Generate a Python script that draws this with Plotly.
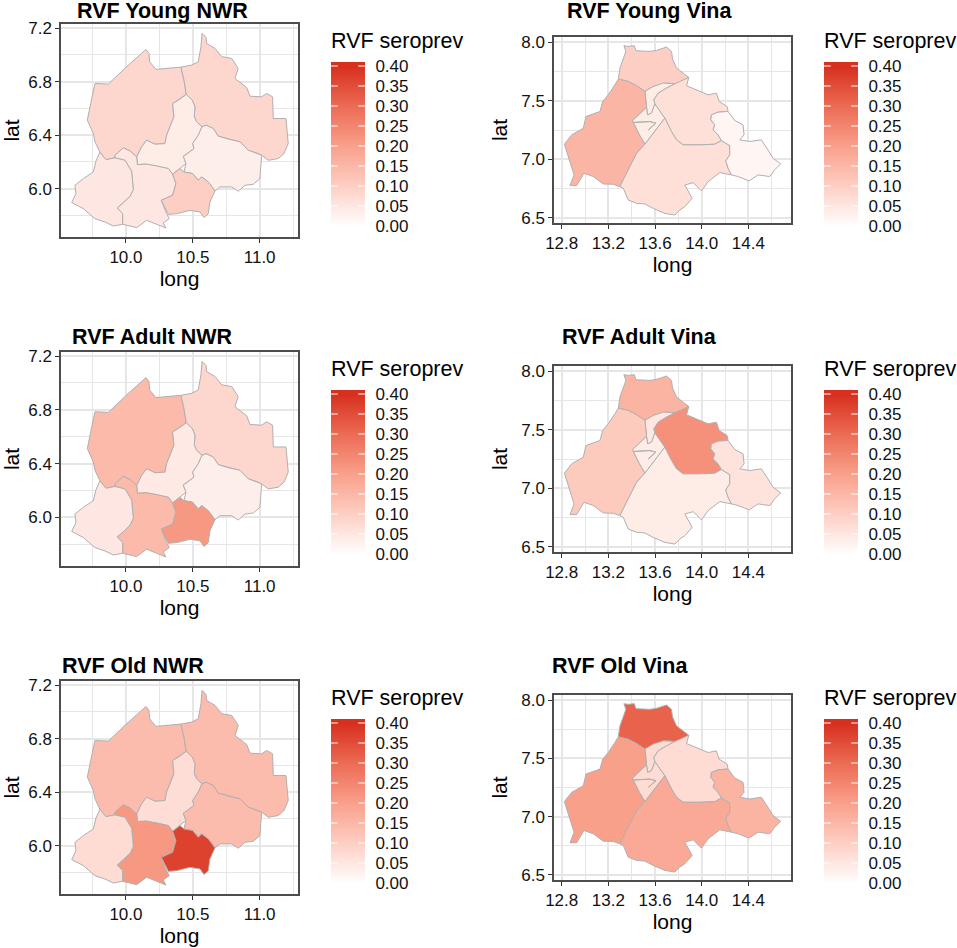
import plotly.graph_objects as go
from plotly.colors import sample_colorscale

# ---------- data: region outlines (long, lat) ----------
NWR_NW = [(10.150,7.040),(10.172,7.010),(10.177,6.948),(10.224,6.891),(10.411,6.908),(10.434,6.811),(10.451,6.704),
          (10.392,6.661),(10.349,6.636),(10.359,6.537),(10.329,6.462),(10.304,6.400),(10.292,6.337),(10.217,6.332),
          (10.155,6.362),(10.117,6.312),(10.080,6.237),(10.030,6.282),(9.980,6.305),(9.918,6.250),(9.918,6.230),
          (9.850,6.217),(9.805,6.272),(9.768,6.350),(9.756,6.412),(9.711,6.512),(9.736,6.636),(9.768,6.786),
          (9.868,6.781),(10.005,6.911)]
NWR_NE = [(10.411,6.908),(10.491,6.923),(10.541,6.948),(10.561,7.060),(10.569,7.160),(10.599,7.130),(10.603,7.085),
          (10.666,7.048),(10.716,6.986),(10.791,6.973),(10.840,6.898),(10.815,6.823),(10.903,6.756),(10.928,6.691),
          (11.015,6.686),(11.052,6.711),(11.097,6.686),(11.102,6.524),(11.197,6.524),(11.207,6.412),(11.214,6.337),
          (11.182,6.262),(11.140,6.225),(11.065,6.212),(11.015,6.250),(10.978,6.267),(10.915,6.287),(10.853,6.350),
          (10.778,6.367),(10.691,6.392),(10.653,6.449),(10.599,6.474),(10.569,6.462),(10.529,6.499),(10.511,6.537),
          (10.516,6.611),(10.496,6.661),(10.451,6.704),(10.434,6.811)]
NWR_C = [(10.451,6.704),(10.496,6.661),(10.516,6.611),(10.511,6.537),(10.529,6.499),(10.569,6.462),(10.541,6.400),
         (10.499,6.337),(10.509,6.300),(10.454,6.257),(10.429,6.242),(10.449,6.188),(10.404,6.150),(10.349,6.108),
         (10.317,6.150),(10.229,6.170),(10.155,6.183),(10.085,6.180),(10.080,6.237),(10.117,6.312),(10.155,6.362),
         (10.217,6.332),(10.292,6.337),(10.304,6.400),(10.329,6.462),(10.359,6.537),(10.349,6.636),(10.392,6.661)]
NWR_E = [(10.569,6.462),(10.599,6.474),(10.653,6.449),(10.691,6.392),(10.778,6.367),(10.853,6.350),(10.915,6.287),
         (10.978,6.267),(11.015,6.250),(11.002,6.075),(10.953,6.033),(10.890,6.025),(10.840,5.981),(10.791,6.013),
         (10.703,6.013),(10.666,5.983),(10.616,6.050),(10.566,6.088),(10.541,6.063),(10.499,6.113),(10.434,6.125),
         (10.449,6.188),(10.429,6.242),(10.454,6.257),(10.509,6.300),(10.499,6.337),(10.541,6.400)]
NWR_SC = [(9.918,6.250),(9.980,6.305),(10.030,6.282),(10.080,6.237),(10.085,6.180),(10.155,6.183),(10.229,6.170),
          (10.317,6.150),(10.349,6.108),(10.374,6.038),(10.349,5.951),(10.264,5.913),(10.304,5.813),(10.324,5.776),
          (10.279,5.744),(10.299,5.706),(10.229,5.734),(10.155,5.764),(10.080,5.709),(9.993,5.726),(9.975,5.734),
          (9.975,5.813),(9.935,5.856),(9.980,5.893),(10.030,5.943),(10.055,5.993),(10.042,6.130),(9.993,6.212),
          (9.918,6.230)]
NWR_SW = [(9.805,6.272),(9.850,6.217),(9.918,6.230),(9.993,6.212),(10.042,6.130),(10.055,5.993),(10.030,5.943),
          (9.980,5.893),(9.935,5.856),(9.975,5.813),(9.975,5.734),(9.905,5.721),(9.843,5.751),(9.768,5.776),
          (9.681,5.851),(9.594,5.896),(9.626,5.963),(9.618,6.025),(9.681,6.075),(9.756,6.125),(9.776,6.207)]
NWR_S = [(10.349,6.108),(10.404,6.150),(10.434,6.125),(10.499,6.113),(10.541,6.063),(10.566,6.088),(10.616,6.050),
         (10.666,5.983),(10.628,5.901),(10.616,5.813),(10.584,5.784),(10.554,5.826),(10.479,5.838),(10.379,5.813),
         (10.317,5.808),(10.264,5.913),(10.349,5.951),(10.374,6.038)]

VINA_N = [(13.333,7.969),(13.370,7.963),(13.422,7.969),(13.436,7.926),(13.556,7.920),(13.613,7.929),(13.698,7.957),
          (13.741,7.920),(13.750,7.855),(13.784,7.778),(13.847,7.730),(13.889,7.698),(13.827,7.664),(13.770,7.644),
          (13.698,7.650),(13.584,7.621),(13.513,7.579),(13.442,7.627),(13.370,7.664),(13.285,7.684),(13.299,7.778),
          (13.333,7.863),(13.350,7.920)]
VINA_P1 = [(13.513,7.579),(13.584,7.621),(13.670,7.650),(13.770,7.644),(13.698,7.607),(13.627,7.564),(13.590,7.507),
           (13.599,7.473),(13.570,7.394),(13.536,7.379),(13.527,7.445),(13.519,7.522)]
VINA_P2 = [(13.407,7.331),(13.527,7.445),(13.536,7.379),(13.570,7.394),(13.599,7.473),(13.684,7.351),(13.513,7.129),
           (13.465,7.209),(13.413,7.314),(13.556,7.322),(13.607,7.308),(13.579,7.280),(13.542,7.251),(13.579,7.280),
           (13.607,7.308),(13.556,7.322),(13.413,7.314)]
VINA_W = [(13.285,7.684),(13.370,7.664),(13.442,7.627),(13.513,7.579),(13.519,7.522),(13.527,7.445),(13.407,7.331),
          (13.413,7.314),(13.465,7.209),(13.513,7.129),(13.442,7.052),(13.399,6.967),(13.348,6.867),(13.299,6.767),
          (13.242,6.787),(13.156,6.790),(13.071,6.853),(12.991,6.881),(12.928,6.776),(12.871,6.776),(12.906,6.867),
          (12.877,6.952),(12.857,7.023),(12.823,7.129),(12.886,7.209),(12.985,7.265),(13.008,7.365),(13.128,7.408),
          (13.151,7.493),(13.199,7.550),(13.256,7.636)]
VINA_C = [(13.770,7.644),(13.889,7.698),(13.870,7.627),(13.955,7.593),(14.055,7.550),(14.126,7.564),(14.149,7.493),
          (14.217,7.451),(14.226,7.408),(14.140,7.402),(14.083,7.379),(14.078,7.337),(14.112,7.294),(14.098,7.251),
          (14.140,7.209),(14.169,7.160),(14.112,7.129),(13.984,7.123),(13.841,7.123),(13.784,7.166),(13.741,7.237),
          (13.684,7.351),(13.599,7.473),(13.590,7.507),(13.627,7.564),(13.698,7.607)]
VINA_S = [(13.684,7.351),(13.741,7.237),(13.784,7.166),(13.841,7.123),(13.984,7.123),(14.112,7.129),(14.169,7.160),
          (14.240,7.117),(14.240,7.038),(14.206,6.986),(14.226,6.924),(14.255,6.867),(14.155,6.887),(14.055,6.810),
          (13.998,6.730),(13.927,6.801),(13.855,6.781),(13.884,6.725),(13.918,6.668),(13.855,6.596),(13.812,6.568),
          (13.770,6.525),(13.684,6.539),(13.584,6.582),(13.513,6.619),(13.442,6.625),(13.370,6.653),(13.328,6.753),
          (13.299,6.767),(13.348,6.867),(13.399,6.967),(13.442,7.052),(13.513,7.129)]
VINA_SE = [(14.226,7.408),(14.140,7.402),(14.083,7.379),(14.078,7.337),(14.112,7.294),(14.098,7.251),(14.140,7.209),
           (14.169,7.160),(14.240,7.117),(14.240,7.038),(14.206,6.986),(14.226,6.924),(14.255,6.867),(14.312,6.853),
           (14.406,6.816),(14.483,6.867),(14.583,6.853),(14.625,6.910),(14.677,6.961),(14.611,7.009),(14.568,7.080),
           (14.511,7.166),(14.411,7.152),(14.326,7.166),(14.363,7.209),(14.354,7.294),(14.283,7.331),(14.240,7.394)]

NWR_REGIONS = [NWR_NW, NWR_NE, NWR_C, NWR_E, NWR_SC, NWR_SW, NWR_S]
VINA_REGIONS = [VINA_N, VINA_P1, VINA_P2, VINA_W, VINA_C, VINA_S, VINA_SE]

# ---------- data: seroprevalence per region ----------
YOUNG_NWR = [0.085, 0.085, 0.040, 0.035, 0.050, 0.050, 0.100]
ADULT_NWR = [0.145, 0.085, 0.045, 0.035, 0.145, 0.050, 0.215]
OLD_NWR   = [0.140, 0.140, 0.070, 0.140, 0.215, 0.075, 0.370]
YOUNG_VINA = [0.100, 0.040, 0.040, 0.155, 0.065, 0.065, 0.020]
ADULT_VINA = [0.160, 0.050, 0.040, 0.110, 0.230, 0.040, 0.060]
OLD_VINA   = [0.315, 0.075, 0.075, 0.200, 0.075, 0.180, 0.160]

LEGEND_TICKS = [0.00, 0.05, 0.10, 0.15, 0.20, 0.25, 0.30, 0.35, 0.40]
LEGEND_TOP = 0.41
TICK_TEXT = ["0.00", "0.05", "0.10", "0.15", "0.20", "0.25", "0.30", "0.35", "0.40"]

NWR_LON_TICKS, NWR_LON_MINOR = [10.0, 10.5, 11.0], [9.75, 10.25, 10.75, 11.25]
NWR_LAT_TICKS, NWR_LAT_MINOR = [6.0, 6.4, 6.8, 7.2], [5.8, 6.2, 6.6, 7.0]
VINA_LON_TICKS, VINA_LON_MINOR = [12.8, 13.2, 13.6, 14.0, 14.4], [13.0, 13.4, 13.8, 14.2, 14.6]
VINA_LAT_TICKS, VINA_LAT_MINOR = [6.5, 7.0, 7.5, 8.0], [6.75, 7.25, 7.75]

# ---------- style / layout ----------
W, H = 957, 948
FONT = "Liberation Sans"
SCALE = [[0, "#FFFFFF"], [0.25, "#FDCFC4"], [0.5, "#F9A08B"], [0.75, "#EC6B54"], [1, "#D7301F"]]
GRID = "#E6E6E6"
BORDER = "#4D4D4D"

PANELS = [
    dict(title="RVF Young NWR", vals=YOUNG_NWR, kind="nwr", box=(61, 24, 298, 237), tx=75, ty=11, bar=(331, 62)),
    dict(title="RVF Young Vina", vals=YOUNG_VINA, kind="vina", box=(554, 37, 791, 223), tx=565, ty=11, bar=(824, 62)),
    dict(title="RVF Adult NWR", vals=ADULT_NWR, kind="nwr", box=(61, 352, 298, 566), tx=70, ty=337, bar=(331, 390)),
    dict(title="RVF Adult Vina", vals=ADULT_VINA, kind="vina", box=(554, 366, 791, 552), tx=560, ty=337, bar=(824, 390)),
    dict(title="RVF Old NWR", vals=OLD_NWR, kind="nwr", box=(61, 681, 298, 894), tx=60, ty=666, bar=(331, 719)),
    dict(title="RVF Old Vina", vals=OLD_VINA, kind="vina", box=(554, 695, 791, 880), tx=550, ty=666, bar=(824, 719)),
]
KIND = {
    "nwr": dict(regions=NWR_REGIONS, xr=[9.514, 11.287], yr=[5.639, 7.230], xt=NWR_LON_TICKS, xm=NWR_LON_MINOR,
                yt=NWR_LAT_TICKS, ym=NWR_LAT_MINOR, ystand=11),
    "vina": dict(regions=VINA_REGIONS, xr=[12.734, 14.765], yr=[6.457, 8.043], xt=VINA_LON_TICKS, xm=VINA_LON_MINOR,
                 yt=VINA_LAT_TICKS, ym=VINA_LAT_MINOR, ystand=8),
}

fig = go.Figure()
layout = {}
shapes, annos = [], []
BAR_W, BAR_H = 34, 164


def px(x):
    return x / W


def py(y):
    return 1 - y / H


for i, p in enumerate(PANELS):
    k = KIND[p["kind"]]
    m, l = 2 * i + 1, 2 * i + 2      # map axes, legend axes
    ms, ls = ("" if m == 1 else str(m)), str(l)
    x0, y0, x1, y1 = p["box"]
    for region, v in zip(k["regions"], p["vals"]):
        xs = [c[0] for c in region] + [region[0][0]]
        ys = [c[1] for c in region] + [region[0][1]]
        fig.add_trace(go.Scatter(
            x=xs, y=ys, mode="lines", fill="toself",
            fillcolor=sample_colorscale(SCALE, [v / LEGEND_TICKS[-1]])[0],
            line=dict(color="#B0B0B0", width=1), showlegend=False, hoverinfo="skip",
            xaxis="x" + ms, yaxis="y" + ms))
    grid = dict(showgrid=True, gridcolor=GRID, gridwidth=2, zeroline=False, showline=True, linecolor=BORDER,
                linewidth=1.5, mirror=True, ticks="outside", ticklen=4, tickcolor="#333333", tickwidth=1,
                automargin=False, tickfont=dict(size=17, color="#111111", family=FONT))
    layout["xaxis" + ms] = dict(
        grid, domain=[px(x0), px(x1)], range=k["xr"], tickmode="array", tickvals=k["xt"],
        ticktext=[f"{t:.1f}" for t in k["xt"]], anchor="y" + ms,
        minor=dict(tickvals=k["xm"], showgrid=True, gridcolor=GRID, gridwidth=1.2, ticks=""),
        title=dict(text="long", standoff=5, font=dict(size=21, color="black", family=FONT)))
    layout["yaxis" + ms] = dict(
        grid, domain=[py(y1), py(y0)], range=k["yr"], tickmode="array", tickvals=k["yt"],
        ticktext=[f"{t:.1f}" for t in k["yt"]], anchor="x" + ms,
        minor=dict(tickvals=k["ym"], showgrid=True, gridcolor=GRID, gridwidth=1.2, ticks=""),
        title=dict(text="lat", standoff=k["ystand"], font=dict(size=21, color="black", family=FONT)))
    annos.append(dict(text="<b>%s</b>" % p["title"], x=px(p["tx"]), y=py(p["ty"]), xref="paper", yref="paper",
                      xanchor="left", yanchor="middle", showarrow=False,
                      font=dict(size=21.5, color="black", family=FONT)))

    # legend: gradient drawn as a heatmap on its own axes
    bx, by = p["bar"]
    levels = LEGEND_TICKS + [LEGEND_TOP]
    fig.add_trace(go.Heatmap(
        x=[0, 1], y=levels, z=[[v, v] for v in levels], zmin=0, zmax=LEGEND_TICKS[-1], colorscale=SCALE,
        zsmooth="best", showscale=False, hoverinfo="skip", xaxis="x" + ls, yaxis="y" + ls))
    layout["xaxis" + ls] = dict(domain=[px(bx), px(bx + BAR_W)], range=[0, 1], visible=False, anchor="y" + ls)
    layout["yaxis" + ls] = dict(
        domain=[py(by + BAR_H), py(by)], range=[0, LEGEND_TOP], anchor="x" + ls, side="right", automargin=False,
        tickmode="array", tickvals=LEGEND_TICKS, ticktext=TICK_TEXT, showgrid=False, zeroline=False, showline=False,
        ticks="outside", ticklen=6, tickcolor="rgba(0,0,0,0)", tickfont=dict(size=17, color="#111111", family=FONT))
    for t in LEGEND_TICKS:
        for a, b in ((0, 0.2), (0.8, 1)):
            shapes.append(dict(type="line", xref="x" + ls, yref="y" + ls, x0=a, x1=b, y0=t, y1=t,
                               line=dict(color="white", width=1), layer="above"))
    annos.append(dict(text="RVF seroprev", x=px(bx - 2), y=py(by - 21), xref="paper", yref="paper", xanchor="left",
                      yanchor="middle", showarrow=False, font=dict(size=21.5, color="black", family=FONT)))

fig.update_layout(width=W, height=H, margin=dict(l=0, r=0, t=0, b=0), paper_bgcolor="white", plot_bgcolor="white",
                  showlegend=False, font=dict(family=FONT), shapes=shapes, annotations=annos, **layout)
fig.write_html("out.html", post_script="document.body.style.margin='0';", config={"displayModeBar": False})
